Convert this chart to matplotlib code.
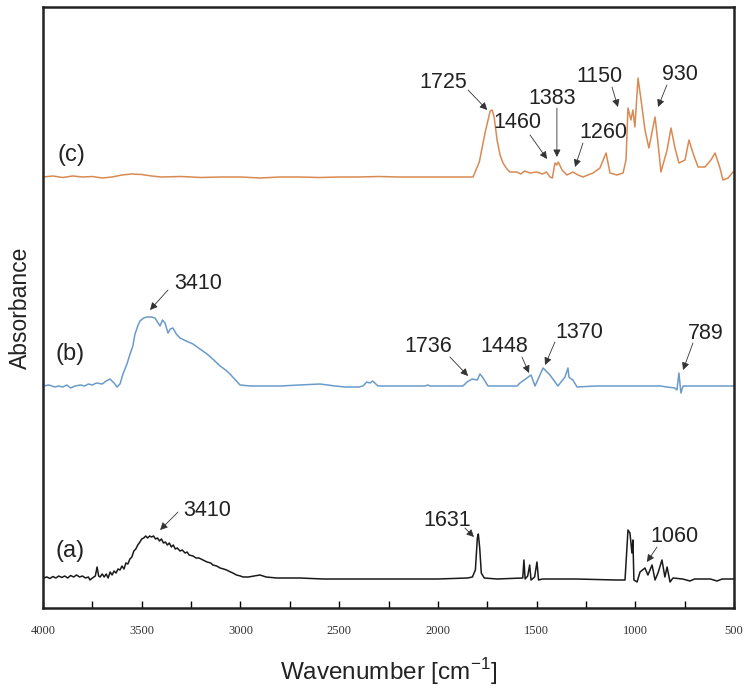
import numpy as np
import matplotlib
matplotlib.use("Agg")
from matplotlib import pyplot as plt
from matplotlib.ticker import MultipleLocator

# FTIR spectra, absorbance (a.u.) relative to each trace's own baseline
# (a) black
wn_a = [4000, 3980, 3965, 3950, 3935, 3920, 3905, 3890, 3875, 3860, 3845, 3830, 3815, 3800,
        3785, 3770, 3762, 3750, 3735, 3726, 3718, 3711, 3700, 3690, 3680, 3670, 3660, 3650,
        3640, 3630, 3620, 3610, 3600, 3590, 3580, 3570, 3560, 3550, 3540, 3530, 3520, 3509,
        3500, 3490, 3480, 3470, 3460, 3450, 3440, 3430, 3420, 3410, 3400, 3390, 3380, 3370,
        3360, 3350, 3340, 3330, 3320, 3306, 3295, 3280, 3270, 3260, 3240, 3225, 3210, 3190,
        3169, 3150, 3140, 3120, 3103, 3085, 3070, 3050, 3038, 3020, 3000, 2987, 2960, 2930,
        2901, 2870, 2815, 2700, 2582, 2400, 2200, 2000, 1850, 1825, 1810, 1800, 1795, 1788,
        1780, 1765, 1700, 1580, 1570, 1564, 1558, 1545, 1535, 1528, 1510, 1498, 1490, 1470,
        1300, 1100, 1052, 1037, 1027, 1017, 1012, 1007, 991, 976, 951, 936, 915, 900, 885,
        865, 850, 839, 824, 809, 760, 723, 700, 620, 586, 560, 500]
ab_a = [0.00, 0.01, -0.005, 0.015, 0.00, 0.02, 0.005, 0.02, 0.00, 0.025, 0.01, 0.03, 0.01, 0.02,
        0.00, 0.01, -0.02, 0.00, 0.02, 0.11, 0.02, 0.01, 0.04, 0.01, 0.04, 0.00, 0.06, 0.03,
        0.07, 0.05, 0.09, 0.08, 0.12, 0.09, 0.15, 0.14, 0.19, 0.21, 0.27, 0.29, 0.33, 0.36,
        0.39, 0.40, 0.42, 0.40, 0.42, 0.41, 0.42, 0.39, 0.40, 0.37, 0.39, 0.35, 0.36, 0.33,
        0.35, 0.31, 0.33, 0.29, 0.30, 0.27, 0.28, 0.25, 0.26, 0.23, 0.22, 0.20, 0.20, 0.18,
        0.16, 0.15, 0.13, 0.12, 0.10, 0.09, 0.08, 0.06, 0.05, 0.03, 0.02, 0.01, 0.01, 0.02,
        0.03, 0.01, 0.00, 0.00, -0.01, -0.01, -0.01, -0.01, 0.00, 0.01, 0.08, 0.40, 0.44, 0.30,
        0.05, 0.00, -0.01, 0.00, 0.00, 0.18, -0.01, 0.02, 0.13, -0.02, 0.01, 0.16, -0.02, -0.01,
        -0.01, -0.02, -0.02, 0.48, 0.45, 0.25, 0.38, -0.02, -0.04, 0.06, 0.10, 0.03, 0.13, -0.02, 0.05,
        0.18, 0.01, 0.11, -0.04, 0.00, -0.01, -0.03, -0.01, -0.01, -0.03, -0.01, -0.01]

# (b) blue
wn_b = [4000, 3970, 3940, 3920, 3900, 3880, 3860, 3838, 3810, 3790, 3770, 3750, 3730, 3700,
        3680, 3661, 3640, 3625, 3610, 3595, 3575, 3559, 3545, 3534, 3520, 3509, 3490, 3473,
        3450, 3433, 3420, 3407, 3395, 3382, 3367, 3355, 3342, 3325, 3306, 3275, 3240, 3205,
        3169, 3135, 3103, 3075, 3053, 3025, 3002, 2950, 2800, 2700, 2597, 2520, 2470, 2400,
        2379, 2360, 2344, 2330, 2303, 2200, 2065, 2050, 2040, 1873, 1852, 1827, 1800, 1787,
        1771, 1746, 1700, 1599, 1584, 1549, 1528, 1508, 1467, 1432, 1392, 1356, 1341, 1336,
        1331, 1316, 1295, 1200, 1000, 875, 839, 800, 789, 779, 769, 758, 700, 600, 500]
ab_b = [0.00, 0.01, -0.01, 0.00, -0.01, 0.01, -0.02, 0.00, 0.01, 0.00, 0.02, 0.01, 0.03, 0.02,
        0.05, 0.07, 0.03, -0.01, 0.02, 0.12, 0.22, 0.32, 0.40, 0.52, 0.60, 0.65, 0.68, 0.69,
        0.69, 0.68, 0.64, 0.60, 0.66, 0.63, 0.53, 0.57, 0.58, 0.52, 0.48, 0.45, 0.42, 0.37,
        0.32, 0.26, 0.20, 0.16, 0.12, 0.06, 0.01, 0.00, 0.00, 0.01, 0.02, 0.00, -0.01, -0.01,
        0.00, 0.04, 0.03, 0.05, 0.00, 0.00, 0.00, 0.01, 0.00, 0.00, 0.04, 0.07, 0.06, 0.12,
        0.08, 0.00, 0.00, 0.00, 0.03, 0.08, 0.11, 0.00, 0.18, 0.11, 0.00, 0.09, 0.18, 0.09,
        0.08, 0.06, -0.01, 0.00, 0.00, 0.00, -0.01, -0.02, -0.04, 0.13, -0.07, 0.00, 0.00, 0.00, 0.00]

# (c) orange
wn_c = [4000, 3950, 3900, 3850, 3800, 3750, 3700, 3650, 3600, 3550, 3500, 3450, 3400, 3300,
        3200, 3100, 3000, 2900, 2800, 2700, 2600, 2500, 2400, 2300, 2200, 2100, 2000, 1900,
        1822, 1790, 1760, 1735, 1725, 1715, 1700, 1685, 1670, 1650, 1635, 1600, 1580, 1560,
        1533, 1500, 1470, 1450, 1432, 1420, 1407, 1398, 1390, 1371, 1346, 1316, 1290, 1265,
        1240, 1214, 1179, 1148, 1128, 1093, 1062, 1047, 1037, 1022, 1012, 1002, 986, 966,
        951, 931, 900, 885, 870, 839, 819, 799, 779, 748, 728, 708, 682, 647, 617, 596,
        571, 556, 530, 505, 500]
ab_c = [0.00, 0.01, -0.005, 0.01, 0.00, 0.005, -0.01, 0.00, 0.02, 0.03, 0.025, 0.01, 0.00, 0.005,
        -0.005, 0.00, 0.00, -0.01, 0.00, 0.00, -0.005, 0.00, 0.00, 0.005, 0.00, 0.00, 0.00, 0.00,
        0.00, 0.15, 0.45, 0.66, 0.67, 0.60, 0.37, 0.22, 0.14, 0.08, 0.05, 0.05, 0.03, 0.06,
        0.04, 0.05, 0.03, 0.05, 0.00, -0.01, 0.14, 0.12, 0.15, 0.07, 0.02, 0.05, 0.02, 0.00,
        0.02, 0.04, 0.09, 0.24, 0.04, 0.02, 0.04, 0.17, 0.69, 0.57, 0.67, 0.50, 0.99, 0.70,
        0.47, 0.29, 0.60, 0.34, 0.05, 0.27, 0.49, 0.29, 0.14, 0.17, 0.37, 0.24, 0.10, 0.10, 0.17, 0.24,
        0.09, -0.03, -0.01, 0.05, 0.05]

offsets = {"a": 0.30, "b": 2.22, "c": 4.31}
colors = {"a": "#1a1a1a", "b": "#6b9bcb", "c": "#d98a52"}

# peak labels: text, text position, arrow start, arrow tip (data coords)
peaks = [("3410", (3169, 0.98), (3316, 0.96), (3407, 0.78)),
         ("1631", (1954, 0.88), (1863, 0.80), (1817, 0.71)),
         ("1060", (804, 0.71), (890, 0.61), (941, 0.46)),
         ("3410", (3215, 3.24), (3367, 3.18), (3458, 2.98)),
         ("1736", (2050, 2.61), (1939, 2.51), (1847, 2.32)),
         ("1448", (1665, 2.61), (1574, 2.51), (1538, 2.35)),
         ("1370", (1285, 2.75), (1407, 2.66), (1457, 2.43)),
         ("789", (642, 2.74), (708, 2.65), (758, 2.38)),
         ("1725", (1974, 5.26), (1847, 5.18), (1750, 4.98)),
         ("1460", (1599, 4.85), (1533, 4.73), (1447, 4.49)),
         ("1383", (1422, 5.10), (1397, 5.00), (1397, 4.51)),
         ("1260", (1164, 4.76), (1265, 4.65), (1305, 4.41)),
         ("1150", (1184, 5.31), (1118, 5.21), (1088, 5.01)),
         ("930", (774, 5.33), (840, 5.23), (885, 5.01))]

fig = plt.figure(figsize=(7.51, 6.89), dpi=100)
ax = fig.add_axes([43/751, 81/689, 691/751, 601/689])

for key, wn, ab in (("a", wn_a, ab_a), ("b", wn_b, ab_b), ("c", wn_c, ab_c)):
    ax.plot(wn, np.array(ab) + offsets[key], color=colors[key], lw=1.1)

sans = "Liberation Sans"
for txt, xytext, start, tip in peaks:
    ax.text(xytext[0], xytext[1], txt, ha="center", va="center",
            fontsize=15.5, family=sans, color="#222222")
    ax.annotate("", xy=tip, xytext=start,
                arrowprops=dict(arrowstyle="-|>", color="#333333", lw=0.6,
                                mutation_scale=11, shrinkA=0, shrinkB=0))

ax.text(3858, 4.53, "(c)", fontsize=17, family=sans, ha="center", va="center", color="#222222")
ax.text(3863, 2.54, "(b)", fontsize=17, family=sans, ha="center", va="center", color="#222222")
ax.text(3863, 0.57, "(a)", fontsize=17, family=sans, ha="center", va="center", color="#222222")

ax.set_xlim(4000, 500)
ax.set_ylim(0, 6.01)
ax.xaxis.set_major_locator(MultipleLocator(500))
ax.xaxis.set_minor_locator(MultipleLocator(250))
ax.tick_params(axis="x", which="both", direction="in", length=5, width=1, pad=12,
               labelsize=9, labelcolor="#333333")
ax.set_yticks([])
for lab in ax.get_xticklabels():
    lab.set_family("Liberation Serif")
for sp in ax.spines.values():
    sp.set_linewidth(1.8)
    sp.set_color("#222222")

ax.set_xlabel("Wavenumber [cm$^{\\mathregular{-1}}$]", fontsize=17.5, family=sans, labelpad=14, color="#222222")
ax.set_ylabel("Absorbance", fontsize=16.5, family=sans, labelpad=8, color="#222222")

fig.savefig("out.png", dpi=100)
